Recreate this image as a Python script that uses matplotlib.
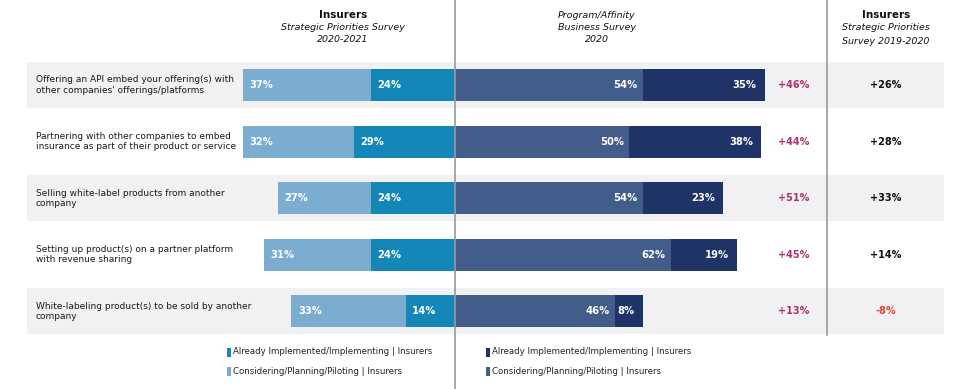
import matplotlib
matplotlib.use("Agg")
import matplotlib.pyplot as plt
from matplotlib.patches import Rectangle

categories = [
    "Offering an API embed your offering(s) with\nother companies' offerings/platforms",
    "Partnering with other companies to embed\ninsurance as part of their product or service",
    "Selling white-label products from another\ncompany",
    "Setting up product(s) on a partner platform\nwith revenue sharing",
    "White-labeling product(s) to be sold by another\ncompany",
]
ins_implemented = [24, 29, 24, 24, 14]
ins_considering = [37, 32, 27, 31, 33]
prog_considering = [54, 50, 54, 62, 46]
prog_implemented = [35, 38, 23, 19, 8]
delta_prog = ["+46%", "+44%", "+51%", "+45%", "+13%"]
delta_prev = ["+26%", "+28%", "+33%", "+14%", "-8%"]

C_LIGHT = "#7badd0"
C_TEAL = "#1487b8"
C_SLATE = "#435d8a"
C_NAVY = "#1f3366"
C_MAG = "#b0306a"
C_RED = "#e8413a"
C_BAND = "#f1f1f4"

W, H = 960, 389
fig = plt.figure(figsize=(W / 100, H / 100), dpi=100)
ax = fig.add_axes([0, 0, 1, 1])
ppu = 3.48  # pixels per percent
cx = 455
ax.set_xlim(-cx / ppu, (W - cx) / ppu)
y0, dy = 85, 56.6
ax.set_ylim((H - y0) / dy, -y0 / dy)
ax.axis("off")

def px(x):
    return (x - cx) / ppu

def py(y):
    return (y - y0) / dy

n = len(categories)
bar_h = 32 / dy
band_h = 46 / dy
for i in range(n):
    if i % 2 == 0:
        ax.add_patch(Rectangle((px(27), i - band_h / 2), px(944) - px(27), band_h,
                               color=C_BAND, lw=0, zorder=0))

ax.barh(range(n), [-v for v in ins_implemented], height=bar_h, color=C_TEAL, zorder=2)
ax.barh(range(n), [-v for v in ins_considering], left=[-v for v in ins_implemented],
        height=bar_h, color=C_LIGHT, zorder=2)
ax.barh(range(n), prog_considering, height=bar_h, color=C_SLATE, zorder=2)
ax.barh(range(n), prog_implemented, left=prog_considering, height=bar_h, color=C_NAVY, zorder=2)

lab_kw = dict(color="white", fontsize=7.2, fontweight="bold", va="center", zorder=3)
for i in range(n):
    a, b = ins_implemented[i], ins_considering[i]
    ax.text(-(a + b) + 7 / ppu, i, f"{b}%", ha="left", **lab_kw)
    ax.text(-a + 6 / ppu, i, f"{a}%", ha="left", **lab_kw)
    c, d = prog_considering[i], prog_implemented[i]
    ax.text(c - 5 / ppu, i, f"{c}%", ha="right", **lab_kw)
    ax.text(c + d - 8 / ppu, i, f"{d}%", ha="right", **lab_kw)
    ax.text(px(36), i, categories[i], ha="left", va="center", fontsize=6.5,
            color="#1a1a1a", linespacing=1.2, zorder=3)
    ax.text(px(794), i, delta_prog[i], ha="center", va="center", fontsize=7,
            fontweight="bold", color=C_MAG, zorder=3)
    col = C_RED if delta_prev[i].startswith("-") else "#111111"
    ax.text(px(886), i, delta_prev[i], ha="center", va="center", fontsize=7,
            fontweight="bold", color=col, zorder=3)

# vertical dividers
ax.plot([0, 0], [py(0), py(389)], color="#9a9a9a", lw=1.2, zorder=4)
ax.plot([px(827), px(827)], [py(0), py(335)], color="#9a9a9a", lw=1.2, zorder=4)

# headers
hk = dict(ha="center", va="center", color="#111111", zorder=3)
ax.text(px(343), py(15), "Insurers", fontsize=7.5, fontweight="bold", **hk)
ax.text(px(343), py(28), "Strategic Priorities Survey", fontsize=6.8, style="italic", **hk)
ax.text(px(343), py(40), "2020-2021", fontsize=6.8, style="italic", **hk)
ax.text(px(597), py(15), "Program/Affinity", fontsize=6.8, style="italic", **hk)
ax.text(px(597), py(27), "Business Survey", fontsize=6.8, style="italic", **hk)
ax.text(px(597), py(39), "2020", fontsize=6.8, style="italic", **hk)
ax.text(px(886), py(15), "Insurers", fontsize=7.5, fontweight="bold", **hk)
ax.text(px(886), py(28), "Strategic Priorities", fontsize=6.8, style="italic", **hk)
ax.text(px(886), py(41), "Survey 2019-2020", fontsize=6.8, style="italic", **hk)

# legend
legend_items = [
    (227, 352, C_TEAL, "Already Implemented/Implementing | Insurers"),
    (227, 371, C_LIGHT, "Considering/Planning/Piloting | Insurers"),
    (486, 352, C_NAVY, "Already Implemented/Implementing | Insurers"),
    (486, 371, C_SLATE, "Considering/Planning/Piloting | Insurers"),
]
for x, y, c, t in legend_items:
    ax.add_patch(Rectangle((px(x), py(y - 4.5)), 4 / ppu, 9 / dy, color=c, lw=0, zorder=3))
    ax.text(px(x + 6), py(y), t, ha="left", va="center", fontsize=6.2,
            color="#222222", zorder=3)

fig.savefig("out.png", dpi=100)
